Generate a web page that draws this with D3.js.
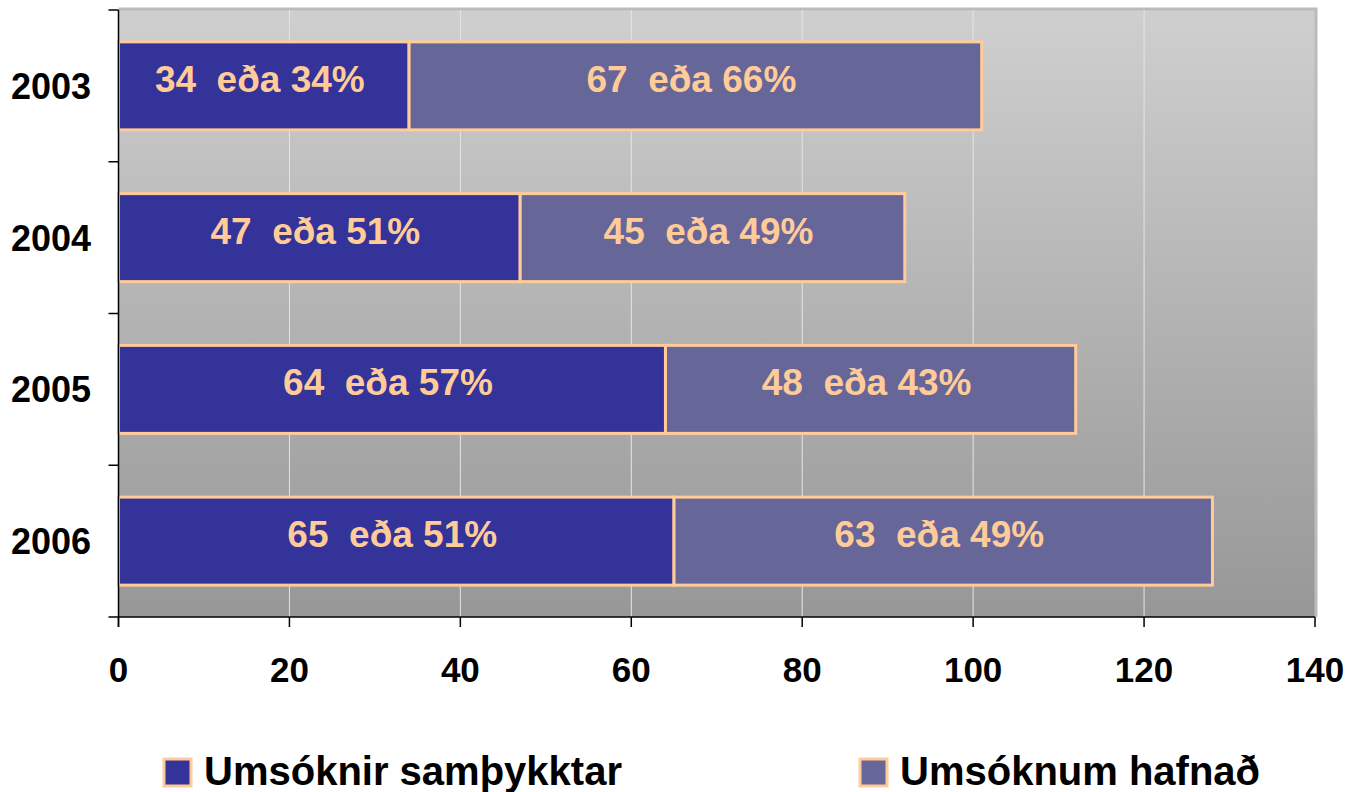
<!DOCTYPE html>
<html>
<head>
<meta charset="utf-8">
<script src="https://cdn.jsdelivr.net/npm/d3@7/dist/d3.min.js"></script>
<style>
  body { margin: 0; background: #fff; }
  text { font-family: "Liberation Sans", Arial, sans-serif; font-weight: bold; }
</style>
</head>
<body>
<script>
var years = ["2003", "2004", "2005", "2006"];
var accepted = [34, 47, 64, 65];
var rejected = [67, 45, 48, 63];
var acceptedPct = [34, 51, 57, 51];
var rejectedPct = [66, 49, 43, 49];
var xTicks = [0, 20, 40, 60, 80, 100, 120, 140];
var seriesNames = ["Umsóknir samþykktar", "Umsóknum hafnað"];
var seriesColors = ["#333399", "#666699"];

var w = 1350, h = 792;
var plotL = 118.5, plotR = 1315, plotT = 10, plotB = 617;

var svg = d3.select("body").append("svg")
  .attr("width", w)
  .attr("height", h);

var x = d3.scaleLinear().domain([0, 140]).range([plotL, plotR]);
var y = d3.scaleBand().domain(years).range([plotT, plotB]).paddingInner(0.42).paddingOuter(0.21);

// background gradient
var grad = svg.append("defs").append("linearGradient")
  .attr("id", "bg").attr("x1", 0).attr("y1", 0).attr("x2", 0).attr("y2", 1);
grad.append("stop").attr("offset", "0%").attr("stop-color", "#cfcfcf");
grad.append("stop").attr("offset", "100%").attr("stop-color", "#979797");

svg.append("rect")
  .attr("x", plotL).attr("y", plotT)
  .attr("width", plotR - plotL).attr("height", plotB - plotT)
  .attr("fill", "url(#bg)");

// top/right frame of plot area
svg.append("path")
  .attr("d", "M" + plotL + "," + (plotT - 1) + "H" + (plotR + 1) + "V" + plotB)
  .attr("fill", "none").attr("stroke", "#bbbbbb").attr("stroke-width", 3);

// gridlines
svg.selectAll(".grid")
  .data(xTicks.slice(1, -1))
  .enter().append("line")
  .attr("x1", d => x(d)).attr("x2", d => x(d))
  .attr("y1", plotT).attr("y2", plotB)
  .attr("stroke", "#e6e6e6").attr("stroke-width", 1);

// stacked bars
var rows = years.map((yr, i) => ({
  year: yr,
  segs: [
    { x0: 0, x1: accepted[i], v: accepted[i], p: acceptedPct[i], c: seriesColors[0] },
    { x0: accepted[i], x1: accepted[i] + rejected[i], v: rejected[i], p: rejectedPct[i], c: seriesColors[1] }
  ]
}));

var g = svg.selectAll(".row")
  .data(rows)
  .enter().append("g");

g.selectAll("rect")
  .data(d => d.segs.map(s => Object.assign({ year: d.year }, s)))
  .enter().append("rect")
  .attr("x", d => x(d.x0))
  .attr("y", d => y(d.year))
  .attr("width", d => x(d.x1) - x(d.x0))
  .attr("height", y.bandwidth())
  .attr("fill", d => d.c)
  .attr("stroke", "#ffcc99")
  .attr("stroke-width", 3);

g.selectAll("text")
  .data(d => d.segs.map(s => Object.assign({ year: d.year }, s)))
  .enter().append("text")
  .attr("x", d => (x(d.x0) + x(d.x1)) / 2 - 4)
  .attr("y", d => y(d.year) + y.bandwidth() / 2 + 6)
  .attr("text-anchor", "middle")
  .attr("font-size", "37px")
  .attr("fill", "#ffcc99")
  .style("white-space", "pre")
  .text(d => d.v + "  eða " + d.p + "%");

// y axis
svg.append("line")
  .attr("x1", plotL).attr("x2", plotL).attr("y1", plotT).attr("y2", plotB + 10)
  .attr("stroke", "#000").attr("stroke-width", 1.5);
var yBounds = years.map(d => y(d) - y.step() * y.paddingInner() / 2).concat([plotB]);
yBounds[0] = plotT;
svg.selectAll(".ytick")
  .data(yBounds)
  .enter().append("line")
  .attr("x1", plotL - 10).attr("x2", plotL)
  .attr("y1", d => d).attr("y2", d => d)
  .attr("stroke", "#000").attr("stroke-width", 1.5);
svg.selectAll(".ylab")
  .data(years)
  .enter().append("text")
  .attr("x", 91)
  .attr("y", d => y(d) + y.bandwidth() / 2 + 13)
  .attr("text-anchor", "end")
  .attr("font-size", "36px")
  .attr("fill", "#000")
  .text(d => d);

// x axis
svg.append("line")
  .attr("x1", plotL).attr("x2", plotR).attr("y1", plotB).attr("y2", plotB)
  .attr("stroke", "#000").attr("stroke-width", 1.5);
svg.selectAll(".xtick")
  .data(xTicks)
  .enter().append("line")
  .attr("x1", d => x(d)).attr("x2", d => x(d))
  .attr("y1", plotB).attr("y2", plotB + 10)
  .attr("stroke", "#000").attr("stroke-width", 1.5);
svg.selectAll(".xlab")
  .data(xTicks)
  .enter().append("text")
  .attr("x", d => x(d))
  .attr("y", 682)
  .attr("text-anchor", "middle")
  .attr("font-size", "35px")
  .attr("fill", "#000")
  .text(d => d);

// legend
var legX = [164, 860];
var leg = svg.selectAll(".leg")
  .data(seriesNames)
  .enter().append("g")
  .attr("transform", (d, i) => "translate(" + legX[i] + ",759)");
leg.append("rect")
  .attr("width", 27).attr("height", 27)
  .attr("fill", (d, i) => seriesColors[i])
  .attr("stroke", "#ffcc99").attr("stroke-width", 3);
leg.append("text")
  .attr("x", 40).attr("y", 26)
  .attr("font-size", "40px")
  .attr("fill", "#000")
  .text(d => d);
</script>
</body>
</html>
